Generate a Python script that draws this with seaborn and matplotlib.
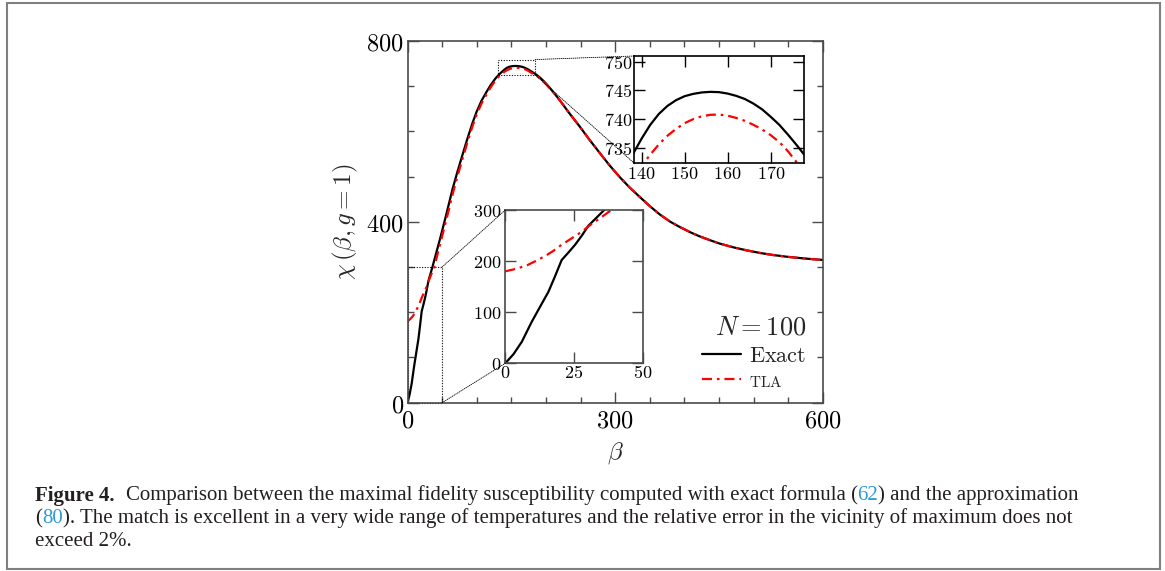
import matplotlib
matplotlib.use("Agg")
import matplotlib.pyplot as plt
import seaborn as sns
from matplotlib.patches import Rectangle, ConnectionPatch
from matplotlib.ticker import MultipleLocator, FuncFormatter

# values
beta_exact = [0, 3, 6, 9.6, 13, 15.7, 18, 20.5, 23, 25.4, 28, 30.2, 33, 36, 42, 48,
              56, 65, 72, 80, 87, 94, 100, 107, 114, 120, 127, 133, 138.5, 140, 142,
              144, 146, 148, 150, 152, 154, 156, 158, 160, 162, 164, 166, 168, 170, 172,
              174, 176, 178, 185, 191, 198, 205, 212, 220, 234, 249, 263, 278, 292, 307,
              321, 335, 350, 364, 380, 393, 410, 422, 437, 451, 470, 490, 510, 529, 550,
              568, 585, 600]
chi_exact = [0, 18, 42, 81, 114, 140, 169, 202, 217, 232, 251, 269, 284, 300, 334, 368,
             416, 472, 510, 551, 586, 619, 644, 668, 687, 702, 717, 727, 734.6, 736.6,
             739.0, 740.9, 742.3, 743.3, 744.0, 744.4, 744.65, 744.75, 744.7, 744.45,
             744.05, 743.5, 742.7, 741.7, 740.4, 739.0, 737.3, 735.5, 733.6, 726.8, 719.8,
             709.5, 697.5, 684.5, 669, 640, 610.6, 581.5, 552, 525, 498.5, 476, 456, 435,
             417, 400, 389, 376, 368, 359.5, 352, 344, 337, 331, 326.5, 322.5, 319.8,
             317.5, 315.8]

beta_tla = [0, 4, 8, 11, 14.5, 17.5, 20.5, 24, 27.7, 31, 35, 38.6, 44, 50, 58, 66, 73,
            80, 87, 94, 100, 107, 114, 120, 127, 133, 138, 140, 142, 144, 146, 148, 150,
            152, 154, 156, 158, 160, 162, 164, 166, 168, 170, 172, 174, 176, 178, 185,
            191, 198, 205, 212, 220, 234, 249, 263, 278, 292, 307, 321, 335, 350, 364,
            380, 393, 410, 422, 437, 451, 470, 490, 510, 529, 550, 568, 585, 600]
chi_tla = [180, 185, 192, 200, 210, 220, 232, 244, 257, 271, 286, 300, 332, 368, 416,
           466, 505, 542, 578, 612, 637.5, 662, 681.5, 697, 712.5, 723, 729.4, 731.9,
           733.8, 735.6, 737.1, 738.3, 739.3, 740.0, 740.5, 740.75, 740.8, 740.6, 740.2,
           739.7, 739.0, 738.2, 737.2, 736.0, 734.4, 732.5, 730.4, 724.3, 717.8, 708,
           696.5, 684, 669, 640, 610.6, 581.5, 552, 525, 498.5, 476, 456, 435, 417, 400,
           389, 376, 368, 359.5, 352, 344, 337, 331, 326.5, 322.5, 319.8, 317.5, 315.8]

legend_labels = [r'$\mathrm{Exact}$', r'$\mathrm{TLA}$']

sns.set_style("ticks")
plt.rcParams.update({
    "mathtext.fontset": "cm",
    "font.family": ["DejaVu Sans"],
    "xtick.direction": "in",
    "ytick.direction": "in",
    "xtick.top": True,
    "ytick.right": True,
})

W, H = 1165, 571
fig = plt.figure(figsize=(W / 100, H / 100), dpi=100)
math_fmt = FuncFormatter(lambda v, p: f"${v:g}$")


def px_axes(x0, y0, x1, y1):
    # pixel box (top-left origin) -> figure fraction
    return [x0 / W, 1 - y1 / H, (x1 - x0) / W, (y1 - y0) / H]


def style_axes(a, spine_col, lsize, major, minor=None, xpad=4, ypad=2.5):
    for s in a.spines.values():
        s.set_color(spine_col)
        s.set_linewidth(1.2)
    a.tick_params(which="major", length=major, width=1, color=spine_col,
                  labelsize=lsize, labelcolor="black")
    a.tick_params(axis="x", which="major", pad=xpad)
    a.tick_params(axis="y", which="major", pad=ypad)
    a.tick_params(which="minor", length=minor or 0, width=1, color=spine_col)
    a.xaxis.set_major_formatter(math_fmt)
    a.yaxis.set_major_formatter(math_fmt)


def draw_curves(a):
    sns.lineplot(x=beta_exact, y=chi_exact, ax=a, color="black", lw=1.6,
                 estimator=None, sort=False, legend=False)
    sns.lineplot(x=beta_tla, y=chi_tla, ax=a, color="#ff0000", lw=1.6,
                 estimator=None, sort=False, legend=False)
    a.lines[-1].set_dashes([4.5, 2.2, 1.2, 2.2])


# main axes
ax = fig.add_axes(px_axes(407.5, 41, 822.7, 402.7))
draw_curves(ax)
ax.set_xlim(0, 600)
ax.set_ylim(0, 800)
ax.xaxis.set_major_locator(MultipleLocator(300))
ax.xaxis.set_minor_locator(MultipleLocator(50))
ax.yaxis.set_major_locator(MultipleLocator(400))
ax.yaxis.set_minor_locator(MultipleLocator(100))
style_axes(ax, "#4a4a4a", 17.5, 8, 4.5)
ax.set_xlabel(r"$\beta$", fontsize=18, labelpad=6)
ax.set_ylabel(r"$\chi\,(\beta, g=1)$", fontsize=18, labelpad=5)

dot = (0, (1, 1.4))
ax.add_patch(Rectangle((131, 725), 53.5, 34, fill=False, ec="black", lw=0.8, ls=dot))
ax.add_patch(Rectangle((0, 0), 50, 300, fill=False, ec="black", lw=0.8, ls=dot,
                       clip_on=False))

leg = ax.legend(handles=ax.lines[:2], labels=legend_labels, title=r"$N=100$",
                loc="lower right", bbox_to_anchor=(1 - 4.5 / 415.2, 0.002),
                frameon=False, fontsize=16, title_fontsize=19,
                handlelength=1.75, handletextpad=0.36, alignment="right",
                borderaxespad=0.15, labelspacing=0.25)
leg.get_texts()[1].set_fontsize(11)

# inset near the maximum
ax1 = fig.add_axes(px_axes(634.3, 56, 804.3, 163.3))
draw_curves(ax1)
ax1.set_xlim(138.3, 177.8)
ax1.set_ylim(732.3, 751)
ax1.xaxis.set_major_locator(MultipleLocator(10))
ax1.yaxis.set_major_locator(MultipleLocator(5))
style_axes(ax1, "black", 13, 8, xpad=1.5, ypad=1.5)

# inset at low beta
ax2 = fig.add_axes(px_axes(505.3, 210, 642.7, 363.3))
draw_curves(ax2)
ax2.set_xlim(0, 50)
ax2.set_ylim(0, 300)
ax2.xaxis.set_major_locator(MultipleLocator(25))
ax2.yaxis.set_major_locator(MultipleLocator(100))
style_axes(ax2, "#4a4a4a", 13, 8, xpad=0.5, ypad=3)

for xyA, axB, xyB in [((184.5, 759), ax1, (0, 1)), ((184.5, 725), ax1, (0, 0)),
                      ((50, 300), ax2, (0, 1)), ((50, 0), ax2, (0, 0))]:
    con = ConnectionPatch(xyA=xyA, coordsA=ax.transData, xyB=xyB,
                          coordsB=axB.transAxes, color="black", lw=0.6, ls=dot)
    fig.add_artist(con)

# grey frame round the whole figure
fig.add_artist(Rectangle((6.8 / W, 1 - 568.8 / H), (1160.2 - 6.8) / W,
                         (568.8 - 2.5) / H, transform=fig.transFigure, fill=False,
                         ec="#808080", lw=1.5))

# caption, written piece by piece so the references can be blue
cap_font = dict(family=["Liberation Serif"], fontsize=15.0, va="center")
renderer = fig.canvas.get_renderer()


def write_line(x, y, parts):
    for txt, weight, col in parts:
        t = fig.text(x / W, 1 - y / H, txt, fontweight=weight, color=col, **cap_font)
        x += t.get_window_extent(renderer).width
    return x


ink, blue = "#231f20", "#2c9ad6"
x_end = write_line(35, 495.5, [("Figure 4.", "bold", ink)])
write_line(x_end + 11, 495.5,
           [("Comparison between the maximal fidelity susceptibility computed "
             "with exact formula (", "normal", ink), ("62", "normal", blue),
            (") and the approximation", "normal", ink)])
write_line(35, 518.5, [("(", "normal", ink), ("80", "normal", blue),
                       ("). The match is excellent in a very wide range of temperatures "
                        "and the relative error in the vicinity of maximum does not",
                        "normal", ink)])
write_line(35, 542, [("exceed 2%.", "normal", ink)])

fig.savefig("out.png", dpi=100)
